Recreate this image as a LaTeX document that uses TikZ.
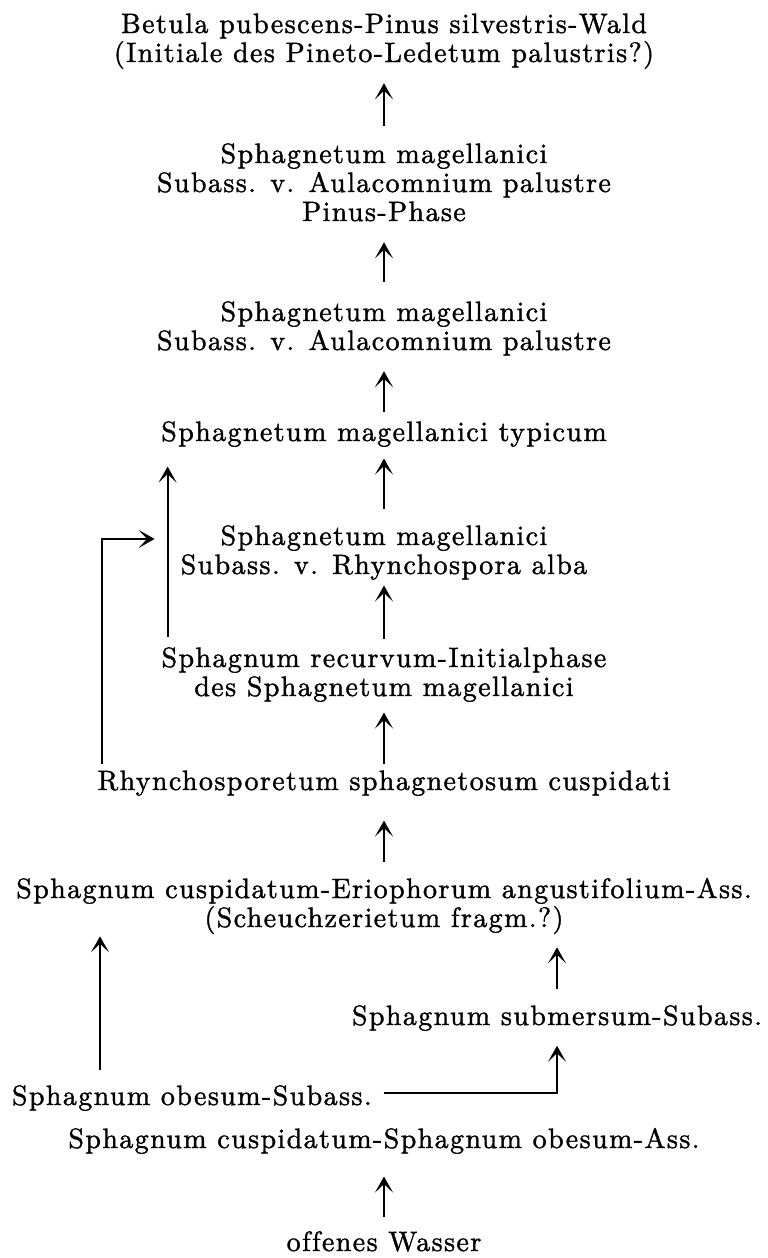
\documentclass[tikz,border=0pt]{standalone}
\usepackage{fontspec}
\usetikzlibrary{arrows.meta}
\font\diagfont="[lmroman10-regular.otf]:mapping=tex-text;letterspace=5;embolden=1.3;-liga" at 28pt
\begin{document}
\begin{tikzpicture}[x=1pt,y=-1pt,
  lbl/.style={inner sep=0pt, outer sep=0pt, align=center, anchor=base,
    font={\diagfont\baselineskip=29pt}},
  arr/.style={line width=2.1pt, -{Stealth[length=16pt,width=18pt,inset=8.5pt]}}]
\useasboundingbox (0,0) rectangle (768,1258);
\fill[white] (0,0) rectangle (768,1258);
% nodes (anchored at the baseline of their last line)
\node[lbl] (t1) at (384,62) {Betula pubescens-Pinus silvestris-Wald\\(Initiale des Pineto-Ledetum palustris?)};
\node[lbl] (b2) at (384,221) {Sphagnetum magellanici\\Subass. v. Aulacomnium palustre\\Pinus-Phase};
\node[lbl] (b3) at (384,350) {Sphagnetum magellanici\\Subass. v. Aulacomnium palustre};
\node[lbl] (b4) at (384,441) {Sphagnetum magellanici typicum};
\node[lbl] (b5) at (384,574) {Sphagnetum magellanici\\Subass. v. Rhynchospora alba};
\node[lbl] (b6) at (384,696) {Sphagnum recurvum-Initialphase\\des Sphagnetum magellanici};
\node[lbl] (b7) at (384,790) {Rhynchosporetum sphagnetosum cuspidati};
\node[lbl] (b8) at (384,927) {Sphagnum cuspidatum-Eriophorum angustifolium-Ass.\\(Scheuchzerietum fragm.?)};
\node[lbl, anchor=base east] (b9) at (762,1025) {Sphagnum submersum-Subass.};
\node[lbl, anchor=base west] (b10) at (12,1105) {Sphagnum obesum-Subass.};
\node[lbl] (b11) at (384,1148) {Sphagnum cuspidatum-Sphagnum obesum-Ass.};
\node[lbl] (b12) at (384,1251) {offenes Wasser};
% main column
\draw[arr, shorten <=17.3pt, shorten >=14.3pt] (b2) -- (t1);
\draw[arr, shorten <=19.3pt, shorten >=21pt] (b3) -- (b2);
\draw[arr, shorten <=9.3pt, shorten >=15.8pt] (b4) -- (b3);
\draw[arr, shorten <=16.3pt, shorten >=11.8pt] (b5) -- (b4);
\draw[arr, shorten <=8.3pt, shorten >=5.8pt] (b6) -- (b5);
\draw[arr, shorten <=6.3pt, shorten >=10.8pt] (b7) -- (b6);
\draw[arr, shorten <=16.3pt, shorten >=24.8pt] (b8) -- (b7);
\draw[arr, shorten <=14.3pt, shorten >=22.8pt] (b12) -- (b11);
% left branch: recurvum -> typicum
\draw[arr, shorten >=19.8pt] ([xshift=6pt,yshift=10.3pt]b6.north west) coordinate (rv) -- (rv |- b4.south);
% Rhynchosporetum -> into that branch
\draw[arr, shorten >=13pt] ([xshift=4pt,yshift=6.3pt]b7.north west) |- ([yshift=-13.7pt]b5.north -| rv);
% bottom part
\draw[arr, shorten <=16.3pt, shorten >=13.3pt] (b9.north) -- (b9.north |- b8.south);
\draw[arr, shorten >=15pt] ([xshift=12pt,yshift=5.3pt]b10.east) -| (b9.south);
\draw[arr, shorten >=2.3pt] ([xshift=88pt,yshift=15.3pt]b10.north west) coordinate (ob) -- (ob |- b8.south);
\end{tikzpicture}
\end{document}
